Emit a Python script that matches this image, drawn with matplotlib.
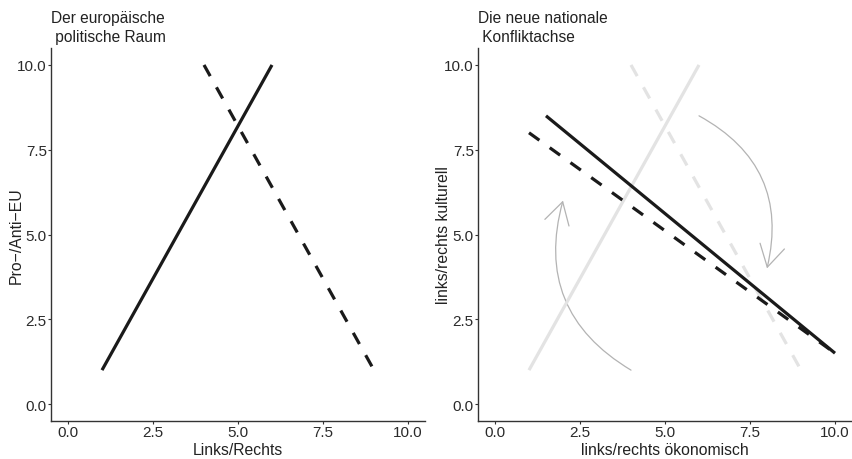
import matplotlib
matplotlib.use("Agg")
import matplotlib.pyplot as plt
from matplotlib.patches import FancyArrowPatch

plt.rcParams['font.family'] = ['Liberation Sans', 'DejaVu Sans']

# Data
eu_solid_x = [1, 6]
eu_solid_y = [1, 10]
eu_dashed_x = [4, 9]
eu_dashed_y = [10, 1]

nat_solid_x = [1.5, 10]
nat_solid_y = [8.5, 1.5]
nat_dashed_x = [1, 10]
nat_dashed_y = [8, 1.5]

arrow_left_start = (4, 1)
arrow_left_end = (2, 6)
arrow_right_start = (6, 8.5)
arrow_right_end = (8, 4)

ticks = [0.0, 2.5, 5.0, 7.5, 10.0]
tick_labels = ["0.0", "2.5", "5.0", "7.5", "10.0"]

titles = ["Der europäische\n politische Raum", "Die neue nationale\n Konfliktachse"]
xlabels = ["Links/Rechts", "links/rechts ökonomisch"]
ylabels = ["Pro\u2212/Anti\u2212EU", "links/rechts kulturell"]

W, H = 852, 460
fig = plt.figure(figsize=(W / 100, H / 100), dpi=100)

ax1 = fig.add_axes([51 / W, 38 / H, (425 - 51) / W, (422 - 49) / H])
ax2 = fig.add_axes([478 / W, 38 / H, (852 - 478) / W, (422 - 49) / H])

black = '#1a1a1a'
light = '#e3e3e3'
arrow_c = '#b3b3b3'
lw = 2.3
dash = (4, 4)

# Left panel
ax1.plot(eu_solid_x, eu_solid_y, color=black, lw=lw, solid_capstyle='butt')
ax1.plot(eu_dashed_x, eu_dashed_y, color=black, lw=lw, linestyle=(0, dash), dash_capstyle='butt')

# Right panel
ax2.plot(eu_solid_x, eu_solid_y, color=light, lw=lw, solid_capstyle='butt')
ax2.plot(eu_dashed_x, eu_dashed_y, color=light, lw=lw, linestyle=(0, dash), dash_capstyle='butt')
ax2.plot(nat_solid_x, nat_solid_y, color=black, lw=lw, solid_capstyle='butt')
ax2.plot(nat_dashed_x, nat_dashed_y, color=black, lw=lw, linestyle=(0, dash), dash_capstyle='butt')

astyle = '->,head_length=0.866,head_width=0.5'
for s, e in [(arrow_left_start, arrow_left_end), (arrow_right_start, arrow_right_end)]:
    ap = FancyArrowPatch(s, e, arrowstyle=astyle, mutation_scale=18,
                         connectionstyle='arc3,rad=-0.38', color=arrow_c, lw=0.9,
                         shrinkA=0, shrinkB=0)
    ax2.add_patch(ap)

for ax, t, xl, yl in zip([ax1, ax2], titles, xlabels, ylabels):
    ax.set_xlim(-0.5, 10.5)
    ax.set_ylim(-0.5, 10.5)
    ax.set_xticks(ticks)
    ax.set_xticklabels(tick_labels)
    ax.set_yticks(ticks)
    ax.set_yticklabels(tick_labels)
    for sp in ['top', 'right']:
        ax.spines[sp].set_visible(False)
    for sp in ['left', 'bottom']:
        ax.spines[sp].set_color('#333333')
        ax.spines[sp].set_linewidth(1.0)
    ax.tick_params(axis='both', length=2.2, width=0.8, color='#333333',
                   labelsize=11, labelcolor='#2a2a2a', pad=0.8)
    ax.set_xlabel(xl, fontsize=11.3, color='#222222', labelpad=2)
    ax.set_ylabel(yl, fontsize=11.3, color='#222222')
    ax.yaxis.label.set_va('center')
    ax.yaxis.set_label_coords(-35 / 374, 0.5)
    ax.set_title(t, loc='left', fontsize=11.2, color='#222222', pad=5, linespacing=1.35)
    ax.patch.set_alpha(0)

fig.savefig('out.png', dpi=100)
